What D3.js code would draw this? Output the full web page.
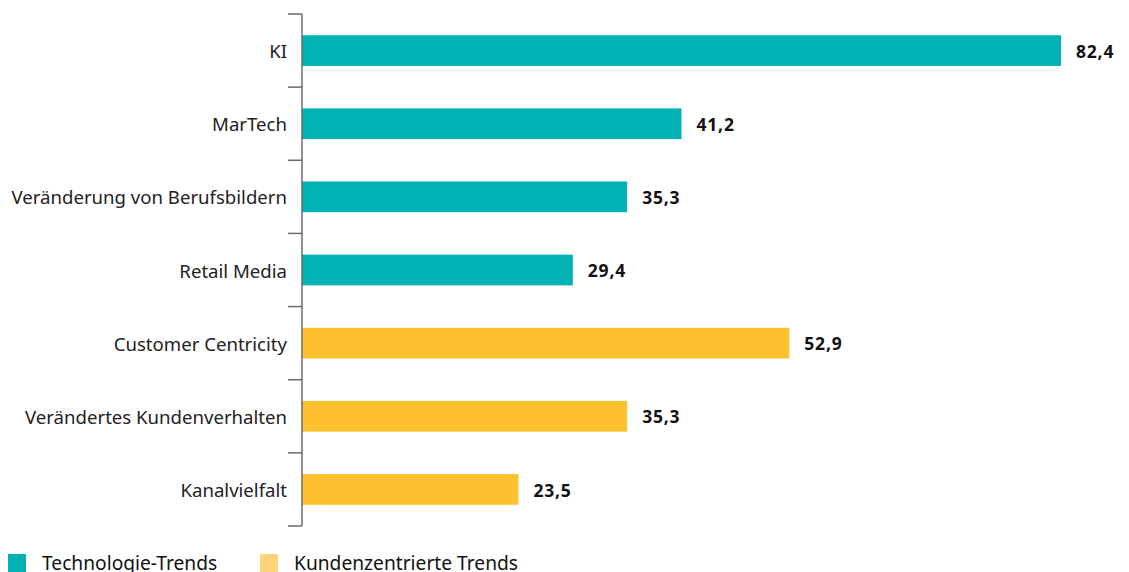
<!DOCTYPE html>
<html>
<head>
<meta charset="utf-8">
<script src="https://cdn.jsdelivr.net/npm/d3@7"></script>
<style>
body { margin: 0; background: #fff; }
svg { font-family: "Noto Sans", sans-serif; }
</style>
</head>
<body>
<svg id="chart" width="1129" height="572"></svg>
<script>
// chart data
var categories = ['KI', 'MarTech', 'Veränderung von Berufsbildern', 'Retail Media',
    'Customer Centricity', 'Verändertes Kundenverhalten', 'Kanalvielfalt'];
var values = [82.4, 41.2, 35.3, 29.4, 52.9, 35.3, 23.5];
var groups = ['tech', 'tech', 'tech', 'tech', 'kunde', 'kunde', 'kunde'];
var legend_labels = ['Technologie-Trends', 'Kundenzentrierte Trends'];

var bar_colors = { tech: '#00b2b4', kunde: '#fcc12d' };
var legend_colors = ['#00b2b4', '#fdd47a'];

var svg = d3.select('#chart');
var x0 = 302;

var y = d3.scaleBand()
    .domain(categories)
    .range([14, 526])
    .paddingInner(0.58)
    .paddingOuter(0.29);

var x = d3.scaleLinear()
    .domain([0, 82.4])
    .range([x0, 1061]);

// bars
svg.selectAll('.bar').data(categories)
    .enter().append('rect')
    .attr('class', 'bar')
    .attr('x', x(0))
    .attr('y', function (d) { return y(d); })
    .attr('width', function (d, i) { return x(values[i]) - x(0); })
    .attr('height', y.bandwidth())
    .attr('fill', function (d, i) { return bar_colors[groups[i]]; });

// value labels
svg.selectAll('.val').data(categories)
    .enter().append('text')
    .attr('class', 'val')
    .attr('x', function (d, i) { return x(values[i]) + 15; })
    .attr('y', function (d) { return y(d) + y.bandwidth() / 2 + 1; })
    .attr('dy', '0.35em')
    .attr('font-size', 17.5)
    .attr('font-weight', 'bold')
    .attr('letter-spacing', 0.8)
    .attr('fill', '#111')
    .text(function (d, i) { return d3.format('.1f')(values[i]).replace('.', ','); });

// axis with ticks at band boundaries
var axis = svg.append('g');
var bounds = [14];
categories.forEach(function (d) { bounds.push(y(d) + y.bandwidth() + (y.step() - y.bandwidth()) / 2); });
bounds[bounds.length - 1] = 526;
axis.append('line')
    .attr('x1', x0).attr('x2', x0)
    .attr('y1', 14).attr('y2', 526)
    .attr('stroke', '#6b6b6b').attr('stroke-width', 1.5);
axis.selectAll('.tick').data(bounds)
    .enter().append('line')
    .attr('x1', 288).attr('x2', x0)
    .attr('y1', function (d) { return d; }).attr('y2', function (d) { return d; })
    .attr('stroke', '#6b6b6b').attr('stroke-width', 1.5);
axis.selectAll('.cat').data(categories)
    .enter().append('text')
    .attr('x', 287)
    .attr('y', function (d) { return y(d) + y.bandwidth() / 2 + 1; })
    .attr('dy', '0.35em')
    .attr('text-anchor', 'end')
    .attr('font-size', 18.6)
    .attr('fill', '#222')
    .text(function (d) { return d; });

// legend
var legend = svg.append('g');
var legend_x = [8, 260];
legend_labels.forEach(function (lab, i) {
    legend.append('rect')
        .attr('x', legend_x[i]).attr('y', 554)
        .attr('width', 18).attr('height', 18)
        .attr('fill', legend_colors[i]);
    legend.append('text')
        .attr('x', legend_x[i] + 34).attr('y', 570)
        .attr('font-size', 19.2)
        .attr('fill', '#111')
        .text(lab);
});
</script>
</body>
</html>
